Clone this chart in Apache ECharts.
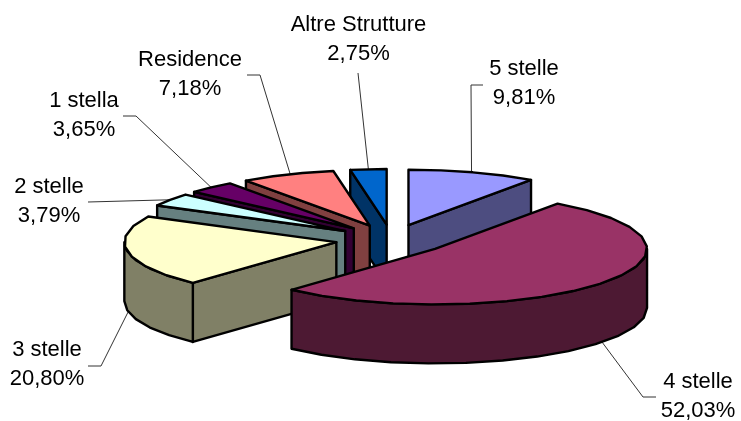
<!DOCTYPE html>
<html>
<head>
<meta charset="utf-8">
<title>Strutture</title>
<style>
html, body { margin: 0; padding: 0; background: #fff; }
#main { width: 741px; height: 421px; }
</style>
<script src="https://cdn.jsdelivr.net/npm/echarts@6/dist/echarts.min.js"></script>
</head>
<body>
<div id="main"></div>
<script>
// dati
var categories = ['5 stelle', '4 stelle', '3 stelle', '2 stelle', '1 stella', 'Residence', 'Altre Strutture'];
var values = [9.81, 52.03, 20.80, 3.79, 3.65, 7.18, 2.75];
var topColors = ['#9999FF', '#993366', '#FFFFCC', '#CCFFFF', '#660066', '#FF8080', '#0066CC'];
var sideColors = ['#4D4D80', '#4D1933', '#808066', '#668080', '#330033', '#804040', '#003366'];

// posizione etichette: centro del testo, gomito e fine della linea guida
var labelPos = [
    { x: 524, y: 83, elbow: [471, 85], end: [483, 85], at: 0.49 },
    { x: 698, y: 396, elbow: [643, 397], end: [656, 397], at: 0.495 },
    { x: 47, y: 364, elbow: [101, 366], end: [88, 366], at: 0.486 },
    { x: 49, y: 201.5, elbow: [88, 202], end: [88, 202], at: 0.5 },
    { x: 84, y: 115, elbow: [136, 116], end: [123, 116], at: 0.5 },
    { x: 190, y: 74, elbow: [260, 75], end: [247, 75], at: 0.53 },
    { x: 358.5, y: 39.5, elbow: [358, 73], end: [358, 73], at: 0.5 }
];

// geometria della torta
var cx = 391.5, cy = 239.5;
var rx = 212, ry = 55.5;
var depth = 59;
var explodeX = 56, explodeY = 15;
var step = 11;

var total = values.reduce(function (a, b) { return a + b; }, 0);
var start = 0;
var rows = values.map(function (v, i) {
    var a = start;
    start += v / total * 360;
    return [i, a, start, v];
});
// dal fondo verso il davanti
rows.sort(function (p, q) {
    return Math.cos((q[1] + q[2]) / 360 * Math.PI) - Math.cos((p[1] + p[2]) / 360 * Math.PI);
});

function rad(d) { return d / 180 * Math.PI; }

function rimPoints(ox, oy, a, b) {
    var pts = [];
    var n = Math.max(1, Math.ceil((b - a) / step));
    for (var k = 0; k <= n; k++) {
        var t = rad(a + (b - a) * k / n);
        pts.push([ox + rx * Math.sin(t), oy - ry * Math.cos(t)]);
    }
    return pts;
}

function face(points, fill) {
    return {
        type: 'polygon',
        shape: { points: points },
        style: { fill: fill, stroke: '#000', lineWidth: 2.4, lineJoin: 'round' }
    };
}

function renderSlice(params, api) {
    var i = api.value(0), a = api.value(1), b = api.value(2);
    var mid = rad((a + b) / 2);
    var ox = cx + explodeX * Math.sin(mid);
    var oy = cy - explodeY * Math.cos(mid);
    var children = [];

    function wall(ang) {
        var p = rimPoints(ox, oy, ang, ang)[0];
        children.push(face([[ox, oy], p, [p[0], p[1] + depth], [ox, oy + depth]], sideColors[i]));
    }
    if (Math.sin(rad(a)) < -0.001) wall(a);
    if (Math.sin(rad(b)) > 0.001) wall(b);

    var fa = Math.max(a, 90), fb = Math.min(b, 270);
    if (fb > fa) {
        var front = rimPoints(ox, oy, fa, fb);
        var under = front.map(function (p) { return [p[0], p[1] + depth]; }).reverse();
        children.push(face(front.concat(under), sideColors[i]));
    }

    children.push(face([[ox, oy]].concat(rimPoints(ox, oy, a, b)), topColors[i]));
    return { type: 'group', children: children };
}

function renderLabel(params, api) {
    var i = api.value(0), a = api.value(1), b = api.value(2);
    var pos = labelPos[i];
    var mid = rad((a + b) / 2);
    var ox = cx + explodeX * Math.sin(mid);
    var oy = cy - explodeY * Math.cos(mid);
    var t = rad(a + (b - a) * pos.at);
    var anchor = [ox + rx * Math.sin(t), oy - ry * Math.cos(t) + (Math.cos(t) < 0 ? depth : 0)];
    return {
        type: 'group',
        children: [{
            type: 'polyline',
            shape: { points: [anchor, pos.elbow, pos.end] },
            style: { fill: null, stroke: '#333', lineWidth: 1 }
        }, {
            type: 'text',
            x: pos.x,
            y: pos.y,
            style: {
                text: categories[i] + '\n' + values[i].toFixed(2).replace('.', ',') + '%',
                fill: '#000',
                font: '22px "Liberation Sans", Arial, sans-serif',
                lineHeight: 29,
                align: 'center',
                verticalAlign: 'middle'
            }
        }]
    };
}

var myChart = echarts.init(document.getElementById('main'));
var option = {
    backgroundColor: '#fff',
    animation: false,
    series: [{
        type: 'custom',
        coordinateSystem: 'none',
        renderItem: renderLabel,
        silent: true,
        z: 1,
        data: rows
    }, {
        type: 'custom',
        coordinateSystem: 'none',
        renderItem: renderSlice,
        silent: true,
        z: 2,
        data: rows
    }]
};
myChart.setOption(option);
</script>
</body>
</html>
